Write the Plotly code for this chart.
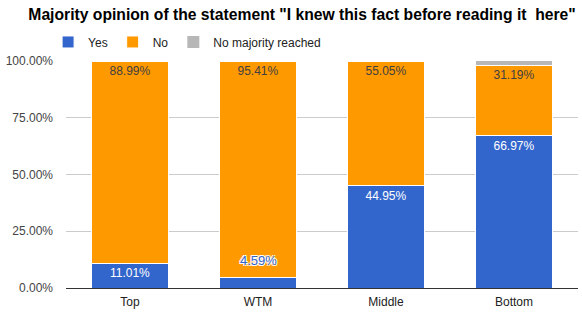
import plotly.graph_objects as go

categories = ["Top", "WTM", "Middle", "Bottom"]
yes_vals = [11.01, 4.59, 44.95, 66.97]
no_vals = [88.99, 95.41, 55.05, 31.19]
none_vals = [0.0, 0.0, 0.0, 1.84]
y_ticks = [0, 25, 50, 75, 100]

FONT = "Liberation Sans, Arial, sans-serif"
SMALL = 8  # segments shorter than this (in %) get their label above the bar segment

yes_text = [f"{v:.2f}%" if v >= SMALL else "" for v in yes_vals]
no_text = [f"{v:.2f}%" if v >= SMALL else "" for v in no_vals]

fig = go.Figure()
fig.add_trace(go.Bar(
    x=categories, y=yes_vals, name="Yes", marker=dict(color="#3366cc", line=dict(color="white", width=1)),
    text=yes_text, textposition="inside", insidetextanchor="end", textangle=0,
    constraintext="none", insidetextfont=dict(color="white", size=12, family=FONT),
    hoverinfo="skip",
))
fig.add_trace(go.Bar(
    x=categories, y=no_vals, name="No", marker=dict(color="#ff9900", line=dict(color="white", width=1)),
    text=no_text, textposition="inside", insidetextanchor="end", textangle=0,
    constraintext="none", insidetextfont=dict(color="#404040", size=12, family=FONT),
    hoverinfo="skip",
))
fig.add_trace(go.Bar(
    x=categories, y=none_vals, name="No majority reached",
    marker=dict(color="#b7b7b7", line=dict(color="white", width=0)),
    hoverinfo="skip",
))

# labels for small "Yes" segments, placed just above the segment
for c, v in zip(categories, yes_vals):
    if v < SMALL:
        fig.add_annotation(
            x=c, y=v, text=f"{v:.2f}%", showarrow=False, yanchor="bottom", yshift=8,
            font=dict(color="#3366cc", size=13, family=FONT,
                      shadow="1px 1px 0 white, -1px -1px 0 white, 1px -1px 0 white, -1px 1px 0 white"),
        )

fig.update_layout(
    barmode="stack", bargap=0.4,
    width=582, height=316,
    margin=dict(l=66, r=4, t=61, b=28, autoexpand=False),
    plot_bgcolor="white", paper_bgcolor="white",
    font=dict(family=FONT, size=12, color="#444444"),
    title=dict(text="<b>Majority opinion of the statement \"I knew this fact before reading it  here\"</b>",
               x=0.519, xanchor="center", xref="container", y=0.953, yanchor="middle",
               font=dict(size=15.7, color="black", family=FONT)),
    legend=dict(orientation="h", x=-0.035, xanchor="left", y=1.02, yanchor="bottom",
                font=dict(size=12, color="#222222", family=FONT), traceorder="normal",
                itemwidth=30),
    yaxis=dict(range=[0, 100], tickvals=y_ticks, ticktext=[f"{t:.2f}%" for t in y_ticks],
               gridcolor="#cccccc", zeroline=False, showline=False, ticks="", ticklabelstandoff=12,
               tickfont=dict(size=12, color="#444444"), fixedrange=True),
    xaxis=dict(showline=True, linecolor="#333333", linewidth=1, ticks="", ticklabelstandoff=3,
               tickfont=dict(size=12, color="#222222"), fixedrange=True),
    showlegend=True,
)

fig.write_html("out.html", config={"displayModeBar": False},
               post_script="document.body.style.margin='0';document.body.style.overflow='hidden';")
